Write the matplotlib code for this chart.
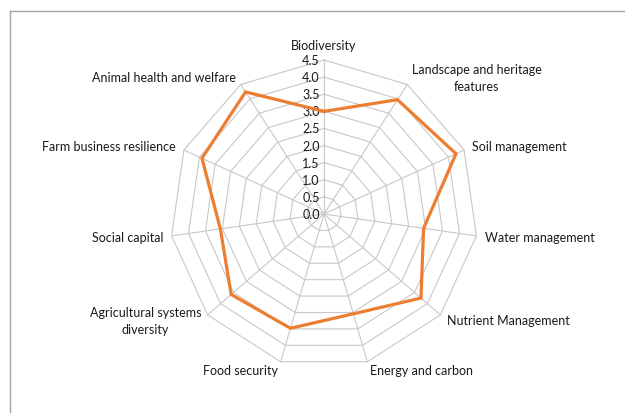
import numpy as np
import matplotlib.pyplot as plt
from matplotlib.lines import Line2D

categories = [
    "Biodiversity",
    "Landscape and heritage\nfeatures",
    "Soil management",
    "Water management",
    "Nutrient Management",
    "Energy and carbon",
    "Food security",
    "Agricultural systems\ndiversity",
    "Social capital",
    "Farm business resilience",
    "Animal health and welfare",
]
scores = [3.0, 3.97, 4.24, 2.94, 3.75, 3.04, 3.48, 3.59, 3.06, 3.92, 4.24]
ring_levels = [0.5, 1.0, 1.5, 2.0, 2.5, 3.0, 3.5, 4.0, 4.5]
tick_labels = ["0.0", "0.5", "1.0", "1.5", "2.0", "2.5", "3.0", "3.5", "4.0", "4.5"]

ORANGE = "#ED7D31"
GRID = "#c8c8c8"
TEXT = "#1a1a1a"
plt.rcParams["font.family"] = ["Lato", "DejaVu Sans"]

W, H = 625, 414
cx, cy = 324, 215          # centre of the web, in pixels from top-left
px_per_unit = 154 / 4.5

fig = plt.figure(figsize=(W / 100, H / 100), dpi=100)
ax = fig.add_axes([0, 0, 1, 1])
ax.set_xlim(-cx / px_per_unit, (W - cx) / px_per_unit)
ax.set_ylim(-(H - cy) / px_per_unit, cy / px_per_unit)
ax.set_aspect("equal")
ax.axis("off")

n = len(categories)
theta = np.arange(n) * 2 * np.pi / n   # clockwise from top
sx, sy = np.sin(theta), np.cos(theta)


def closed(a):
    return np.append(a, a[0])


# polygon rings and spokes
for r in ring_levels:
    ax.plot(closed(r * sx), closed(r * sy), color=GRID, lw=0.8, zorder=1)
rmax = ring_levels[-1]
for i in range(n):
    ax.plot([0, rmax * sx[i]], [0, rmax * sy[i]], color=GRID, lw=0.8, zorder=1)

# value axis labels along the first spoke
for k, lab in enumerate(tick_labels):
    ax.text(-0.12, k * 0.5, lab, ha="right", va="center", fontsize=9, color=TEXT)

# data series
vals = np.array(scores)
ax.plot(closed(vals * sx), closed(vals * sy), color=ORANGE, lw=2.3, zorder=3,
        solid_joinstyle="miter")

# category labels
r_lab = rmax + 0.25
for i, lab in enumerate(categories):
    if abs(sx[i]) < 0.05:
        ha = "center"
    else:
        ha = "left" if sx[i] > 0 else "right"
    va = "bottom" if i == 0 else "center"
    ax.text(r_lab * sx[i], r_lab * sy[i], lab, ha=ha, va=va, fontsize=9,
            color=TEXT, multialignment="center", linespacing=1.5)

# chart area border (top and left edges visible)
bx, by = 10 / W, 1 - 12 / H
fig.add_artist(Line2D([bx, 1], [by, by], color="#a6a6a6", lw=1,
                      transform=fig.transFigure))
fig.add_artist(Line2D([bx, bx], [0, by], color="#a6a6a6", lw=1,
                      transform=fig.transFigure))

fig.savefig("out.png", dpi=100)
